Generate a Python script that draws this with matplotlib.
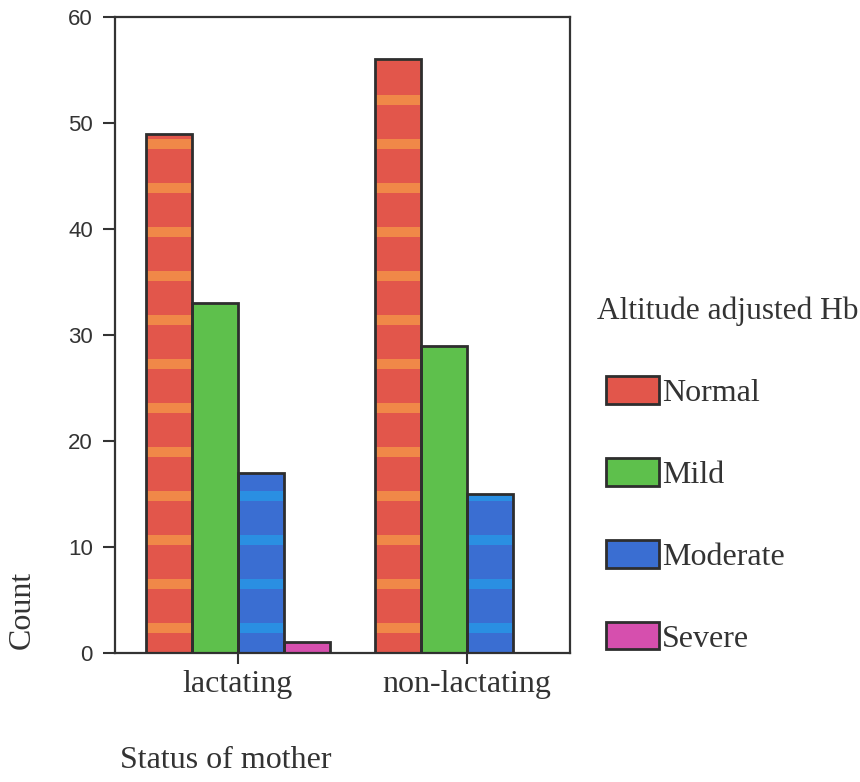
import numpy as np
import matplotlib
matplotlib.use("Agg")
import matplotlib.pyplot as plt
from matplotlib.patches import Patch

groups = ["lactating", "non-lactating"]
levels = ["Normal", "Mild", "Moderate", "Severe"]
counts = {
    "Normal":   [49, 56],
    "Mild":     [33, 29],
    "Moderate": [17, 15],
    "Severe":   [1, 0],
}

face = {"Normal": "#e2564b", "Mild": "#5ec04c", "Moderate": "#3a6ed2", "Severe": "#d64fae"}
stripe = {"Normal": "#f08848", "Mild": None, "Moderate": "#2a8fe2", "Severe": None}
edge = "#2e2e2e"

serif = "Liberation Serif"
sans = "Liberation Sans"

fig = plt.figure(figsize=(8.6, 7.82), dpi=100, facecolor="white")
ax = fig.add_axes([0.1337, 0.165, 0.5291, 0.8133])

x = np.arange(len(groups))
w = 0.2
offsets = np.array([-1.5, -0.5, 0.5, 1.5]) * w

# stripe layout in data units (decorative banding of the scanned bars)
stripe_start, stripe_step, stripe_h = 1.85, 4.15, 1.0

for lvl, off in zip(levels, offsets):
    vals = np.array(counts[lvl], dtype=float)
    ax.bar(x + off, vals, w, color=face[lvl], edgecolor="none", zorder=2)
    if stripe[lvl]:
        for xi, v in zip(x, vals):
            b = np.arange(stripe_start, v, stripe_step)
            h = np.minimum(stripe_h, v - b)
            ax.bar(np.full(len(b), xi + off), h, w * 0.97, bottom=b,
                   color=stripe[lvl], edgecolor="none", zorder=3)
    ax.bar(x + off, vals, w, color="none", edgecolor=edge, linewidth=2, zorder=4)

ax.set_xlim(-0.537, 1.45)
ax.set_ylim(0, 60)
ax.set_yticks(range(0, 61, 10))
ax.set_xticks(x)
ax.set_xticklabels(groups, fontfamily=serif, fontsize=23)
for t in ax.get_yticklabels():
    t.set_fontfamily(sans)
    t.set_fontsize(16)
    t.set_color("#333333")
ax.tick_params(axis="y", direction="out", length=9, width=1.5, pad=7, colors="#333333")
ax.tick_params(axis="x", direction="out", length=8, width=1.5, pad=4, colors="#333333")
for s in ax.spines.values():
    s.set_linewidth(1.6)
    s.set_color("#333333")

fig.text(0.026, 0.17, "Count", rotation=90, ha="center", va="bottom",
         fontfamily=serif, fontsize=23, color="#333333")
fig.text(0.262, 0.028, "Status of mother", ha="center", va="center",
         fontfamily=serif, fontsize=23, color="#333333")

handles = [Patch(facecolor=face[l], edgecolor=edge, linewidth=2) for l in levels]
leg = fig.legend(handles, levels, loc="upper left", bbox_to_anchor=(0.69, 0.637),
                 frameon=False, prop={"family": serif, "size": 23},
                 title="Altitude adjusted Hb",
                 title_fontproperties={"family": serif, "size": 22.6},
                 handlelength=1.65, handleheight=0.95, handletextpad=0.1,
                 labelspacing=1.57, borderaxespad=0)
leg._legend_box.align = "left"
leg._legend_box.sep = 36
for t in leg.get_texts():
    t.set_color("#333333")
leg.get_title().set_color("#333333")
leg.get_title().set_position((-9, 0))

fig.savefig("out.png", dpi=100, facecolor="white")
